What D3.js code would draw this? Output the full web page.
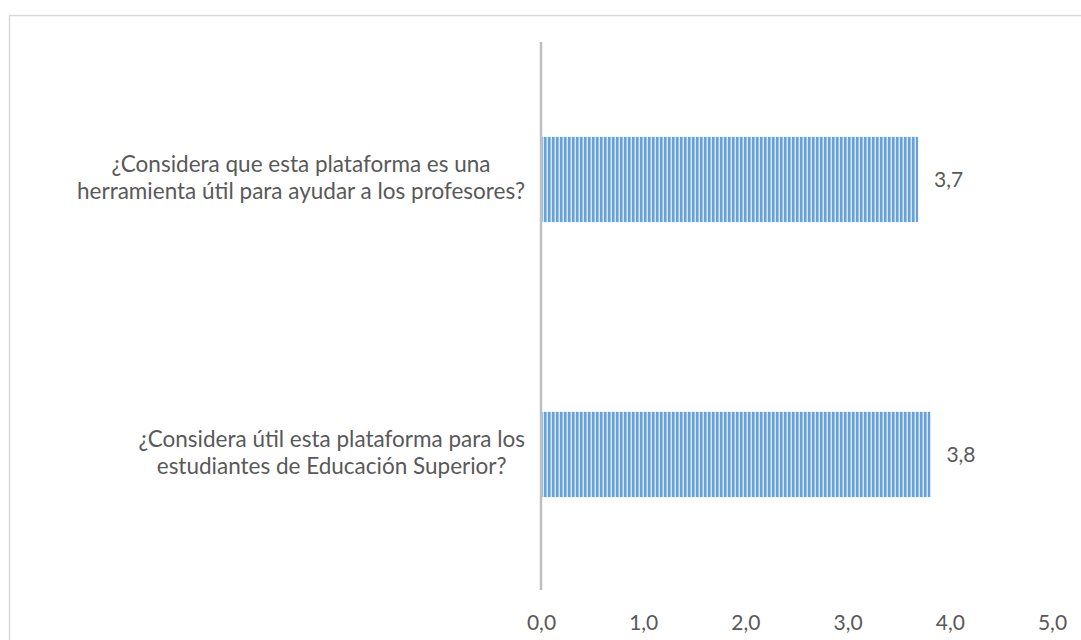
<!DOCTYPE html>
<html>
<head>
<meta charset="utf-8">
<script src="https://cdn.jsdelivr.net/npm/d3@7"></script>
<style>
  html, body { margin: 0; padding: 0; background: #fff; }
  svg { display: block; }
  text { font-family: Lato, "Open Sans", sans-serif; fill: #595959; }
</style>
</head>
<body>
<svg id="chart" width="1081" height="640"></svg>
<script>
// ---- data ----
const categories = [
  "¿Considera que esta plataforma es una\nherramienta útil para ayudar a los profesores?",
  "¿Considera útil esta plataforma para los\nestudiantes de Educación Superior?"
];
const values = [3.69, 3.81];
const xTicks = [0, 1, 2, 3, 4, 5];

// ---- layout ----
const svg = d3.select("#chart");
const plot = { left: 541, right: 1052, top: 42, bottom: 592 };

const x = d3.scaleLinear().domain([0, 5]).range([plot.left, plot.right]);
const y = d3.scaleBand().domain(categories).range([plot.top, plot.bottom])
  .paddingInner(0.69).paddingOuter(0.345);

const fmt = v => d3.format(".1f")(v).replace(".", ",");

// chart border (extends past right/bottom edges)
svg.append("rect")
  .attr("x", 9.5).attr("y", 15.5).attr("width", 1200).attr("height", 800)
  .attr("fill", "none").attr("stroke", "#d9d9d9").attr("stroke-width", 1.5);

// stripe pattern
const defs = svg.append("defs");
const pat = defs.append("pattern").attr("id", "stripes")
  .attr("patternUnits", "userSpaceOnUse").attr("width", 4).attr("height", 10);
pat.append("rect").attr("x", 0).attr("y", 0).attr("width", 4).attr("height", 10).attr("fill", "#d6e6f6");
pat.append("rect").attr("x", 0).attr("y", 0).attr("width", 2).attr("height", 10).attr("fill", "#66a2d9");
pat.append("rect").attr("x", 2).attr("y", 0).attr("width", 1).attr("height", 10).attr("fill", "#9cc4ea");

// bars
const data = categories.map((c, i) => ({ c, v: values[i] }));
svg.append("g").selectAll("rect").data(data).join("rect")
  .attr("x", x(0))
  .attr("y", d => y(d.c))
  .attr("width", d => x(d.v) - x(0))
  .attr("height", y.bandwidth())
  .attr("fill", "url(#stripes)");

// data labels
svg.append("g").selectAll("text").data(data).join("text")
  .attr("x", d => x(d.v) + 16)
  .attr("y", d => y(d.c) + y.bandwidth() / 2)
  .attr("dy", "0.35em")
  .attr("font-size", 21)
  .text(d => fmt(d.v));

// vertical axis line (category axis)
svg.append("line")
  .attr("x1", x(0)).attr("x2", x(0))
  .attr("y1", plot.top).attr("y2", plot.bottom - 2)
  .attr("stroke", "#bfbfbf").attr("stroke-width", 2.5);

// x axis tick labels
const xAxis = d3.axisBottom(x).tickValues(xTicks).tickSize(0).tickPadding(0).tickFormat(fmt);
const gx = svg.append("g").attr("transform", `translate(0, 630)`).call(xAxis);
gx.select(".domain").remove();
gx.selectAll("text").attr("font-size", 21).attr("dy", 0)
  .style("font-family", "Lato, 'Open Sans', sans-serif").attr("fill", "#595959");

// category labels (wrapped, centered block)
const lineH = 27;
const catG = svg.append("g");
data.forEach(d => {
  const lines = d.c.split("\n");
  const t = catG.append("text").attr("font-size", 22.5).attr("text-anchor", "middle");
  const cy = y(d.c) + y.bandwidth() / 2 - 2;
  lines.forEach((ln, i) => {
    t.append("tspan").attr("y", cy + (i - (lines.length - 1) / 2) * lineH).attr("dy", "0.35em").text(ln);
  });
  let maxW = 0;
  t.selectAll("tspan").each(function () { maxW = Math.max(maxW, this.getComputedTextLength()); });
  t.selectAll("tspan").attr("x", x(0) - 16 - maxW / 2);
});
</script>
</body>
</html>
